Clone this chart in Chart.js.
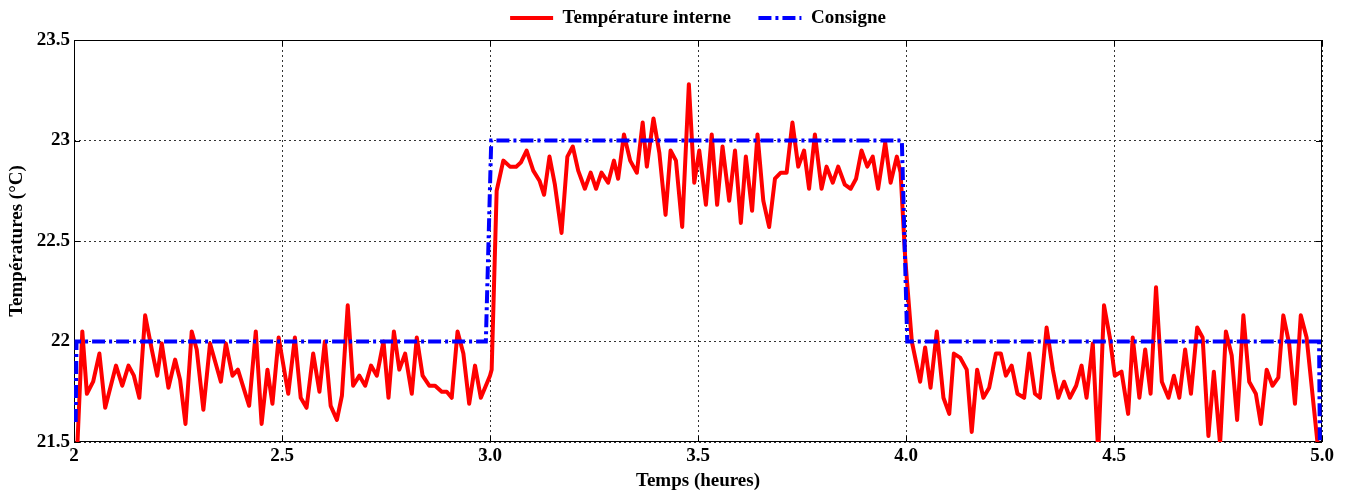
<!DOCTYPE html>
<html lang="fr">
<head>
<meta charset="utf-8">
<title>Température interne et consigne</title>
<script src="https://cdn.jsdelivr.net/npm/chart.js@4.4.1/dist/chart.umd.min.js"></script>
<style>
  html, body { margin: 0; padding: 0; background: #fff; }
  #wrap { width: 1347px; height: 492px; position: relative; }
</style>
</head>
<body>
<div id="wrap"><canvas id="chart"></canvas></div>
<script>
const SERIF = '"Liberation Serif", "Times New Roman", serif';

// Temps (heures) / température interne (°C)
const tempTimes = [
  2.008, 2.020, 2.031, 2.046, 2.061, 2.075, 2.101, 2.116, 2.131, 2.144,
  2.157, 2.171, 2.187, 2.200, 2.211, 2.227, 2.243, 2.255, 2.268, 2.283,
  2.295, 2.311, 2.327, 2.353, 2.365, 2.381, 2.394, 2.421, 2.437, 2.451,
  2.465, 2.477, 2.492, 2.515, 2.531, 2.545, 2.559, 2.575, 2.590, 2.603,
  2.617, 2.632, 2.644, 2.658, 2.671, 2.686, 2.700, 2.714, 2.728, 2.744,
  2.756, 2.769, 2.782, 2.796, 2.812, 2.824, 2.838, 2.854, 2.868, 2.884,
  2.896, 2.908, 2.922, 2.936, 2.950, 2.964, 2.978, 3.000, 3.004, 3.016,
  3.032, 3.048, 3.063, 3.074, 3.088, 3.104, 3.119, 3.130, 3.143, 3.156,
  3.172, 3.186, 3.199, 3.212, 3.228, 3.242, 3.255, 3.268, 3.284, 3.298,
  3.308, 3.322, 3.337, 3.353, 3.367, 3.377, 3.393, 3.407, 3.422, 3.434,
  3.447, 3.462, 3.478, 3.491, 3.503, 3.519, 3.533, 3.546, 3.559, 3.575,
  3.589, 3.603, 3.615, 3.630, 3.643, 3.657, 3.671, 3.685, 3.699, 3.713,
  3.727, 3.741, 3.755, 3.767, 3.781, 3.797, 3.809, 3.824, 3.837, 3.853,
  3.867, 3.880, 3.893, 3.907, 3.920, 3.933, 3.950, 3.963, 3.978, 3.987,
  3.998, 4.002, 4.014, 4.034, 4.046, 4.059, 4.074, 4.090, 4.104, 4.115,
  4.130, 4.146, 4.158, 4.171, 4.186, 4.200, 4.216, 4.228, 4.240, 4.254,
  4.268, 4.284, 4.296, 4.310, 4.322, 4.338, 4.353, 4.366, 4.380, 4.394,
  4.409, 4.422, 4.434, 4.449, 4.462, 4.476, 4.490, 4.502, 4.518, 4.534,
  4.545, 4.561, 4.575, 4.588, 4.601, 4.615, 4.631, 4.644, 4.657, 4.671,
  4.685, 4.700, 4.713, 4.727, 4.740, 4.755, 4.769, 4.783, 4.796, 4.811,
  4.825, 4.841, 4.853, 4.867, 4.881, 4.895, 4.907, 4.921, 4.935, 4.949,
  4.963, 4.989, 4.995,
];
const tempValues = [
  21.48, 22.05, 21.74, 21.80, 21.94, 21.67, 21.88, 21.78, 21.88, 21.83,
  21.72, 22.13, 21.96, 21.83, 21.99, 21.77, 21.91, 21.81, 21.59, 22.05,
  21.96, 21.66, 21.99, 21.80, 21.99, 21.83, 21.86, 21.68, 22.05, 21.59,
  21.86, 21.69, 22.02, 21.74, 22.02, 21.72, 21.67, 21.94, 21.75, 22.00,
  21.68, 21.61, 21.73, 22.18, 21.78, 21.83, 21.78, 21.88, 21.83, 22.00,
  21.72, 22.05, 21.86, 21.94, 21.74, 22.02, 21.83, 21.78, 21.78, 21.75,
  21.75, 21.72, 22.05, 21.94, 21.69, 21.88, 21.72, 21.83, 21.86, 22.75,
  22.90, 22.87, 22.87, 22.89, 22.95, 22.85, 22.80, 22.73, 22.92, 22.78,
  22.54, 22.92, 22.97, 22.85, 22.76, 22.84, 22.76, 22.84, 22.79, 22.90,
  22.81, 23.03, 22.90, 22.84, 23.09, 22.87, 23.11, 22.94, 22.63, 22.95,
  22.90, 22.57, 23.28, 22.79, 22.95, 22.68, 23.03, 22.68, 22.97, 22.70,
  22.95, 22.59, 22.92, 22.65, 23.03, 22.70, 22.57, 22.81, 22.84, 22.84,
  23.09, 22.87, 22.95, 22.76, 23.03, 22.76, 22.87, 22.79, 22.87, 22.78,
  22.76, 22.81, 22.95, 22.87, 22.92, 22.76, 22.99, 22.79, 22.92, 22.84,
  22.42, 22.31, 22.00, 21.80, 21.97, 21.77, 22.05, 21.72, 21.64, 21.94,
  21.92, 21.86, 21.55, 21.86, 21.72, 21.77, 21.94, 21.94, 21.83, 21.88,
  21.74, 21.72, 21.94, 21.74, 21.72, 22.07, 21.86, 21.72, 21.80, 21.72,
  21.78, 21.88, 21.72, 21.99, 21.45, 22.18, 22.02, 21.83, 21.85, 21.64,
  22.02, 21.72, 21.96, 21.74, 22.27, 21.80, 21.72, 21.83, 21.72, 21.96,
  21.74, 22.07, 22.02, 21.53, 21.85, 21.49, 22.05, 21.93, 21.61, 22.13,
  21.80, 21.74, 21.59, 21.86, 21.78, 21.82, 22.13, 21.99, 21.69, 22.13,
  22.02, 21.50, 21.45,
];

// Consigne (°C) : paliers 22 / 23 / 22
const setpointTimes = [2.004, 2.006, 2.990, 3.003, 3.990, 4.003, 4.993, 4.995];
const setpointValues = [21.60, 22.00, 22.00, 23.00, 23.00, 22.00, 22.00, 21.45];

const xTickValues = [2, 2.5, 3, 3.5, 4, 4.5, 5];
const xTickLabels = ['2', '2.5', '3.0', '3.5', '4.0', '4.5', '5.0'];
const yTickValues = [21.5, 22, 22.5, 23, 23.5];
const yTickLabels = ['21.5', '22', '22.5', '23', '23.5'];

const font = { family: SERIF, size: 19, weight: 'bold' };
const SETPOINT_DASH = [13, 4, 3, 4];

/** Fixed legend height, legend centred over the plot area. */
const legendBox = {
  id: 'legendBox',
  beforeInit(chart) {
    const fit = chart.legend.fit;
    chart.legend.fit = function () {
      fit.call(this);
      this.height = 40;
    };
  },
  afterLayout(chart) {
    chart.legend.left = chart.chartArea.left;
    chart.legend.right = chart.chartArea.right;
  },
};

/** Black box around the plot with short inner tick marks. */
const plotFrame = {
  id: 'plotFrame',
  beforeDatasetsDraw(chart) {
    const { ctx, chartArea: a, scales } = chart;
    ctx.save();
    ctx.strokeStyle = '#000';
    ctx.lineWidth = 1;
    ctx.strokeRect(a.left + 0.5, a.top + 0.5, a.right - a.left - 1, a.bottom - a.top - 1);
    ctx.beginPath();
    xTickValues.forEach((v) => {
      const x = Math.round(scales.x.getPixelForValue(v)) + 0.5;
      ctx.moveTo(x, a.bottom); ctx.lineTo(x, a.bottom - 6);
      ctx.moveTo(x, a.top); ctx.lineTo(x, a.top + 6);
    });
    yTickValues.forEach((v) => {
      const y = Math.round(scales.y.getPixelForValue(v)) + 0.5;
      ctx.moveTo(a.left, y); ctx.lineTo(a.left + 6, y);
      ctx.moveTo(a.right, y); ctx.lineTo(a.right - 6, y);
    });
    ctx.stroke();
    ctx.restore();
  },
};

new Chart(document.getElementById('chart'), {
  type: 'line',
  data: {
    datasets: [
      {
        label: 'Température interne',
        data: tempTimes.map((t, i) => ({ x: t, y: tempValues[i] })),
        borderColor: '#ff0000',
        backgroundColor: '#ff0000',
        borderWidth: 4,
        borderJoinStyle: 'round',
        pointRadius: 0,
        tension: 0,
        order: 1,
      },
      {
        label: 'Consigne',
        data: setpointTimes.map((t, i) => ({ x: t, y: setpointValues[i] })),
        borderColor: '#0000ff',
        backgroundColor: '#0000ff',
        borderWidth: 4,
        borderDash: SETPOINT_DASH,
        pointRadius: 0,
        tension: 0,
        order: 0,
      },
    ],
  },
  options: {
    responsive: true,
    maintainAspectRatio: false,
    animation: false,
    events: [],
    layout: { padding: { left: 0, right: 25, top: 0, bottom: 0 } },
    plugins: {
      tooltip: { enabled: false },
      legend: {
        position: 'top',
        labels: {
          color: '#000',
          font,
          usePointStyle: true,
          pointStyle: 'line',
          pointStyleWidth: 43,
          padding: 8.5,
          generateLabels(chart) {
            const items = Chart.defaults.plugins.legend.labels.generateLabels(chart);
            items.sort((a, b) => a.datasetIndex - b.datasetIndex);
            items.forEach((item) => {
              const ds = chart.data.datasets[item.datasetIndex];
              item.lineWidth = 4;
              item.strokeStyle = ds.borderColor;
              item.lineDash = ds.borderDash || [];
            });
            items[0].text += '    ';
            return items;
          },
        },
      },
    },
    scales: {
      x: {
        type: 'linear',
        min: 2,
        max: 5,
        afterBuildTicks: (scale) => { scale.ticks = xTickValues.map((v) => ({ value: v })); },
        afterFit: (scale) => { scale.height = 50; },
        ticks: {
          color: '#000',
          font,
          padding: 3,
          maxRotation: 0,
          callback: (value, index) => xTickLabels[index],
        },
        grid: { color: '#333', lineWidth: 1, drawTicks: false },
        border: { display: false, dash: [2, 3] },
        title: { display: true, text: 'Temps (heures)', color: '#000', font, padding: 0 },
      },
      y: {
        type: 'linear',
        min: 21.5,
        max: 23.5,
        afterBuildTicks: (scale) => { scale.ticks = yTickValues.map((v) => ({ value: v })); },
        afterFit: (scale) => { scale.width = 74; },
        ticks: {
          color: '#000',
          font,
          padding: 4,
          callback: (value, index) => yTickLabels[index],
        },
        grid: { color: '#333', lineWidth: 1, drawTicks: false },
        border: { display: false, dash: [2, 3] },
        title: { display: true, text: 'Températures (°C)', color: '#000', font, padding: { top: 6, bottom: 6 } },
      },
    },
  },
  plugins: [legendBox, plotFrame],
});
</script>
</body>
</html>
